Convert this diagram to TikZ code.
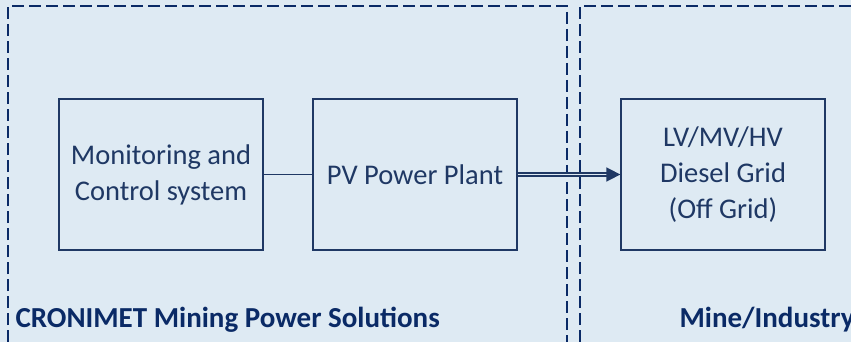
\documentclass[tikz,border=0pt]{standalone}
\usepackage{fontspec}
\setmainfont{Carlito}
\usetikzlibrary{arrows.meta}

\definecolor{bgblue}{HTML}{DEEAF3}
\definecolor{navy}{HTML}{1F3864}
\definecolor{framenavy}{HTML}{0A2A66}

\tikzset{
  block/.style={draw=navy, line width=1.3pt, fill=bgblue, minimum width=204pt,
    minimum height=151pt, align=center, text=navy,
    font=\fontsize{28.5}{36}\selectfont},
  frame/.style={draw=framenavy, line width=1.6pt, dash pattern=on 12pt off 5pt},
  area/.style={text=framenavy, font=\fontsize{29}{34}\selectfont\bfseries, anchor=west}
}

\begin{document}
\begin{tikzpicture}[x=1pt, y=-1pt]
  % background
  \fill[bgblue] (0,0) rectangle (851,342);
  \useasboundingbox (0,0) rectangle (851,342);

  % dashed areas
  \draw[frame] (8,342) -- (8,6) -- (567,6) -- (567,342);
  \draw[frame] (580,342) -- (580,6) -- (851,6);

  % blocks
  \node[block] (mon) at (161,174.5) {Monitoring and\\Control system};
  \node[block] (pv) at (415,174.5) {PV Power Plant};
  \node[block] (grid) at (723,174.5) {LV/MV/HV\\Diesel Grid\\(Off Grid)};

  \draw[navy, line width=1.5pt] (mon) -- (pv);
  \draw[navy, double=bgblue, double distance=1.6pt, line width=1.6pt,
    -{Triangle[length=14pt, width=14pt]}] (pv) -- (grid);

  % area labels
  \node[area] (cms) at (12,320) {CRONIMET Mining Power Solutions};
  \node[area] (mine) at (676,320) {Mine/Industry};
\end{tikzpicture}
\end{document}
